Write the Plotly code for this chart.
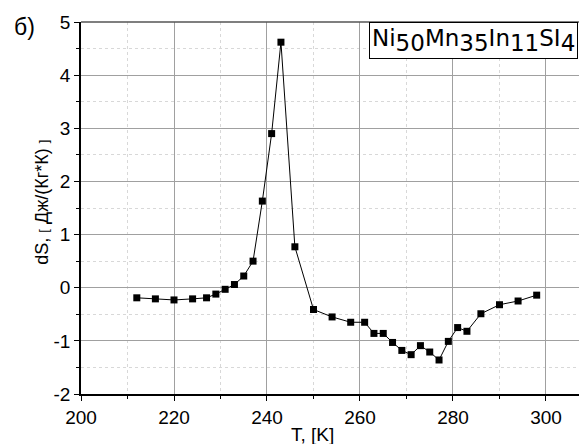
import plotly.graph_objects as go

T = [212, 216, 220, 224, 227, 229, 231, 233, 235, 237, 239, 241, 243, 246,
     250, 254, 258, 261, 263, 265, 267, 269, 271, 273, 275, 277, 279, 281,
     283, 286, 290, 294, 298]
dS = [-0.19, -0.21, -0.23, -0.21, -0.19, -0.12, -0.03, 0.06, 0.22, 0.50,
      1.63, 2.90, 4.62, 0.77,
      -0.41, -0.55, -0.65, -0.65, -0.86, -0.86, -1.03, -1.18, -1.26, -1.09,
      -1.21, -1.36, -1.01, -0.75, -0.82, -0.49, -0.32, -0.25, -0.14]

x_ticks = [200, 220, 240, 260, 280, 300]
y_ticks = [-2, -1, 0, 1, 2, 3, 4, 5]

FONT = "Liberation Sans, Arial, sans-serif"

fig = go.Figure()
fig.add_trace(go.Scatter(
    x=T, y=dS, mode="lines+markers",
    line=dict(color="black", width=1),
    marker=dict(symbol="square", size=7, color="black"),
    showlegend=False,
))

fig.update_layout(
    width=579, height=444,
    margin=dict(l=81, r=0, t=22, b=50),
    paper_bgcolor="white", plot_bgcolor="white",
    font=dict(family=FONT, size=15, color="black"),
    xaxis=dict(
        range=[200, 307.1], tickvals=x_ticks, ticktext=[str(v) for v in x_ticks],
        showgrid=True, gridcolor="#a0a0a0", gridwidth=1,
        minor=dict(dtick=10, tick0=200, showgrid=True, gridcolor="#d8d8d8",
                   griddash="dot", ticks="outside", ticklen=3,
                   tickcolor="black"),
        ticks="outside", ticklen=5, tickcolor="black",
        showline=True, linecolor="black", linewidth=1.5, mirror=False,
        zeroline=False, tickfont=dict(size=19),
    ),
    yaxis=dict(
        range=[-2, 5], tickvals=y_ticks, ticktext=[str(v) for v in y_ticks],
        showgrid=True, gridcolor="#a0a0a0", gridwidth=1,
        minor=dict(dtick=0.5, tick0=0, showgrid=True, gridcolor="#d8d8d8",
                   griddash="dot", ticks="outside", ticklen=3,
                   tickcolor="black"),
        ticks="outside", ticklen=5, tickcolor="black",
        showline=True, linecolor="black", linewidth=1.5,
        zeroline=False, tickfont=dict(size=19),
    ),
)

# top border
fig.add_shape(type="line", xref="paper", yref="paper", x0=0, x1=1, y0=1, y1=1,
              line=dict(color="#555555", width=1.5))

# axis titles
fig.add_annotation(xref="paper", yref="paper", x=(312 - 81) / 498, y=-0.075,
                   text="T, [K]", showarrow=False, xanchor="center",
                   yanchor="top", font=dict(size=19))
fig.add_annotation(xref="paper", yref="paper", x=-0.079, y=(394 - 202) / 372,
                   text="dS, <span style='font-size:13px'>[</span> Дж/(Кг*К) <span style='font-size:13px'>]</span>",
                   showarrow=False, textangle=-90, xanchor="center",
                   yanchor="middle", font=dict(size=18))
# panel label
fig.add_annotation(xref="paper", yref="paper", x=-0.114, y=0.987,
                   text="б)", showarrow=False, xanchor="center",
                   yanchor="middle", font=dict(size=23))
# legend-like box
sub = "<sub><span style='font-size:23px'>{}</span></sub>"
fig.add_annotation(xref="paper", yref="paper", x=(369 - 81) / 498, y=1.0,
                   text="Ni" + sub.format("50") + "Mn" + sub.format("35")
                        + "In" + sub.format("11") + "SI" + sub.format("4"),
                   showarrow=False, xanchor="left", yanchor="top",
                   align="left", bordercolor="black", borderwidth=1,
                   bgcolor="white", borderpad=2,
                   font=dict(size=23, family="DejaVu Sans, sans-serif"))

fig.write_html("out.html")
